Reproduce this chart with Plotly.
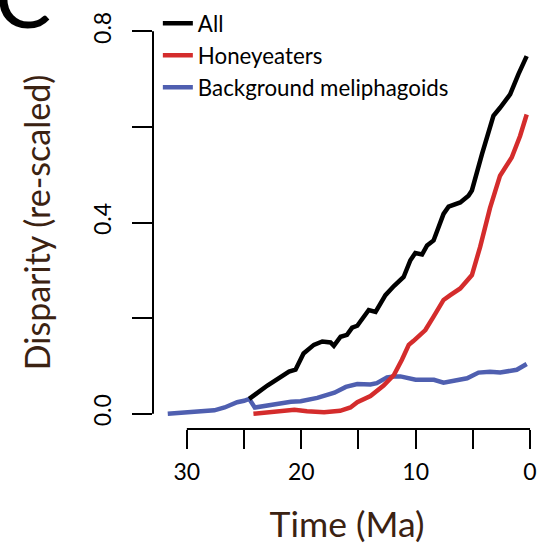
import plotly.graph_objects as go

# ---- data (time in Ma, disparity re-scaled) ----
all_t = [24.55, 22.96, 21.07, 20.5, 19.8, 18.9, 18.16, 17.44, 17.15, 16.56, 16.0, 15.55, 15.1,
         14.1, 13.5, 12.64, 11.9, 11.05, 10.46, 10.03, 9.44, 9.0, 8.43, 7.85, 7.56, 7.12, 6.1,
         5.38, 5.08, 4.2, 3.2, 2.62, 1.74, 1.02, 0.29]
all_v = [0.031, 0.059, 0.088, 0.092, 0.126, 0.144, 0.151, 0.149, 0.142, 0.161, 0.165, 0.180, 0.184,
         0.217, 0.213, 0.248, 0.267, 0.286, 0.321, 0.336, 0.333, 0.352, 0.3625, 0.400, 0.418, 0.433, 0.442,
         0.456, 0.467, 0.543, 0.623, 0.640, 0.668, 0.710, 0.748]

honey_t = [24.18, 22.4, 20.6, 19.5, 18.0, 16.6, 15.7, 15.1, 13.95, 12.8, 11.9, 11.2, 10.6, 10.2,
           9.15, 8.43, 7.56, 6.97, 6.1, 5.08, 4.36, 3.5, 2.62, 1.6, 0.87, 0.29]
honey_v = [0.0, 0.003, 0.008, 0.005, 0.003, 0.006, 0.013, 0.024, 0.037, 0.059, 0.081, 0.113, 0.144, 0.152,
           0.175, 0.203, 0.238, 0.248, 0.262, 0.290, 0.349, 0.430, 0.498, 0.536, 0.581, 0.626]

back_t = [31.67, 29.6, 27.6, 26.7, 25.6, 25.0, 24.55, 24.06, 22.4, 20.9, 20.05, 18.6, 17.1, 16.1,
          15.1, 13.95, 13.4, 12.5, 11.9, 11.33, 10.0, 8.4, 7.56, 5.5, 4.5, 3.5, 2.6, 1.16, 0.29]
back_v = [0.0, 0.004, 0.007, 0.013, 0.024, 0.027, 0.031, 0.013, 0.020, 0.025, 0.026, 0.033, 0.044, 0.056,
          0.062, 0.061, 0.064, 0.076, 0.078, 0.078, 0.071, 0.071, 0.065, 0.074, 0.086, 0.088, 0.086, 0.092, 0.104]

x_ticks = [30, 25, 20, 15, 10, 5, 0]
x_labels = ["30", "", "20", "", "10", "", "0"]
y_ticks = [0.0, 0.2, 0.4, 0.6, 0.8]
y_labels = ["0.0", "", "0.4", "", "0.8"]

FONT = "Lato"
TITLE_COLOR = "#3b2212"
BLACK = "#000000"
RED = "#d42c2c"
BLUE = "#4f5fb0"

fig = go.Figure()
fig.add_trace(go.Scatter(x=back_t, y=back_v, mode="lines", name="Background meliphagoids",
                         line=dict(color=BLUE, width=4.5), legendrank=3))
fig.add_trace(go.Scatter(x=honey_t, y=honey_v, mode="lines", name="Honeyeaters",
                         line=dict(color=RED, width=4.5), legendrank=2))
fig.add_trace(go.Scatter(x=all_t, y=all_v, mode="lines", name="All",
                         line=dict(color=BLACK, width=4.5), legendrank=1))

# axis lines spanning only the tick range (R style)
fig.add_shape(type="line", xref="x", yref="paper", x0=30, x1=0, y0=0, y1=0,
              line=dict(color="black", width=2))
fig.add_shape(type="line", xref="paper", yref="y", x0=0, x1=0, y0=0, y1=0.8,
              line=dict(color="black", width=2))

fig.add_annotation(text="C", xref="paper", yref="paper", x=-0.413, y=0.922,
                   xanchor="left", yanchor="bottom", showarrow=False,
                   font=dict(family=FONT, size=84, color="black"))

fig.update_layout(
    width=544, height=548,
    margin=dict(l=153, r=3, t=15, b=119),
    paper_bgcolor="white", plot_bgcolor="white",
    font=dict(family=FONT, color="black"),
    showlegend=True,
    legend=dict(x=0.0125, y=1.031, xanchor="left", yanchor="top",
                bgcolor="rgba(0,0,0,0)", font=dict(family=FONT, size=22.3, color="black"),
                traceorder="normal", tracegroupgap=0),
    xaxis=dict(range=[32.96, -0.96], showgrid=False, zeroline=False, showline=False,
               tickmode="array", tickvals=x_ticks, ticktext=x_labels,
               ticks="outside", ticklen=19, tickwidth=2, tickcolor="black",
               tickfont=dict(family=FONT, size=23, color="black"), ticklabelstandoff=3,
               title=dict(text="Time (Ma)", font=dict(family=FONT, size=35.5, color=TITLE_COLOR),
                          standoff=28),
               automargin=False),
    yaxis=dict(range=[-0.032, 0.832], showgrid=False, zeroline=False, showline=False,
               tickmode="array", tickvals=y_ticks, ticktext=y_labels,
               ticks="outside", ticklen=20, tickwidth=2, tickcolor="black", tickangle=-90,
               tickfont=dict(family=FONT, size=23, color="black"), ticklabelstandoff=12,
               title=dict(text="Disparity (re-scaled)", font=dict(family=FONT, size=34, color=TITLE_COLOR),
                          standoff=26),
               automargin=False),
)

# remove the default 8px page margin so the figure fills the window exactly
fig.write_html("out.html", config={"displayModeBar": False},
               post_script="document.body.style.margin='0px';")
